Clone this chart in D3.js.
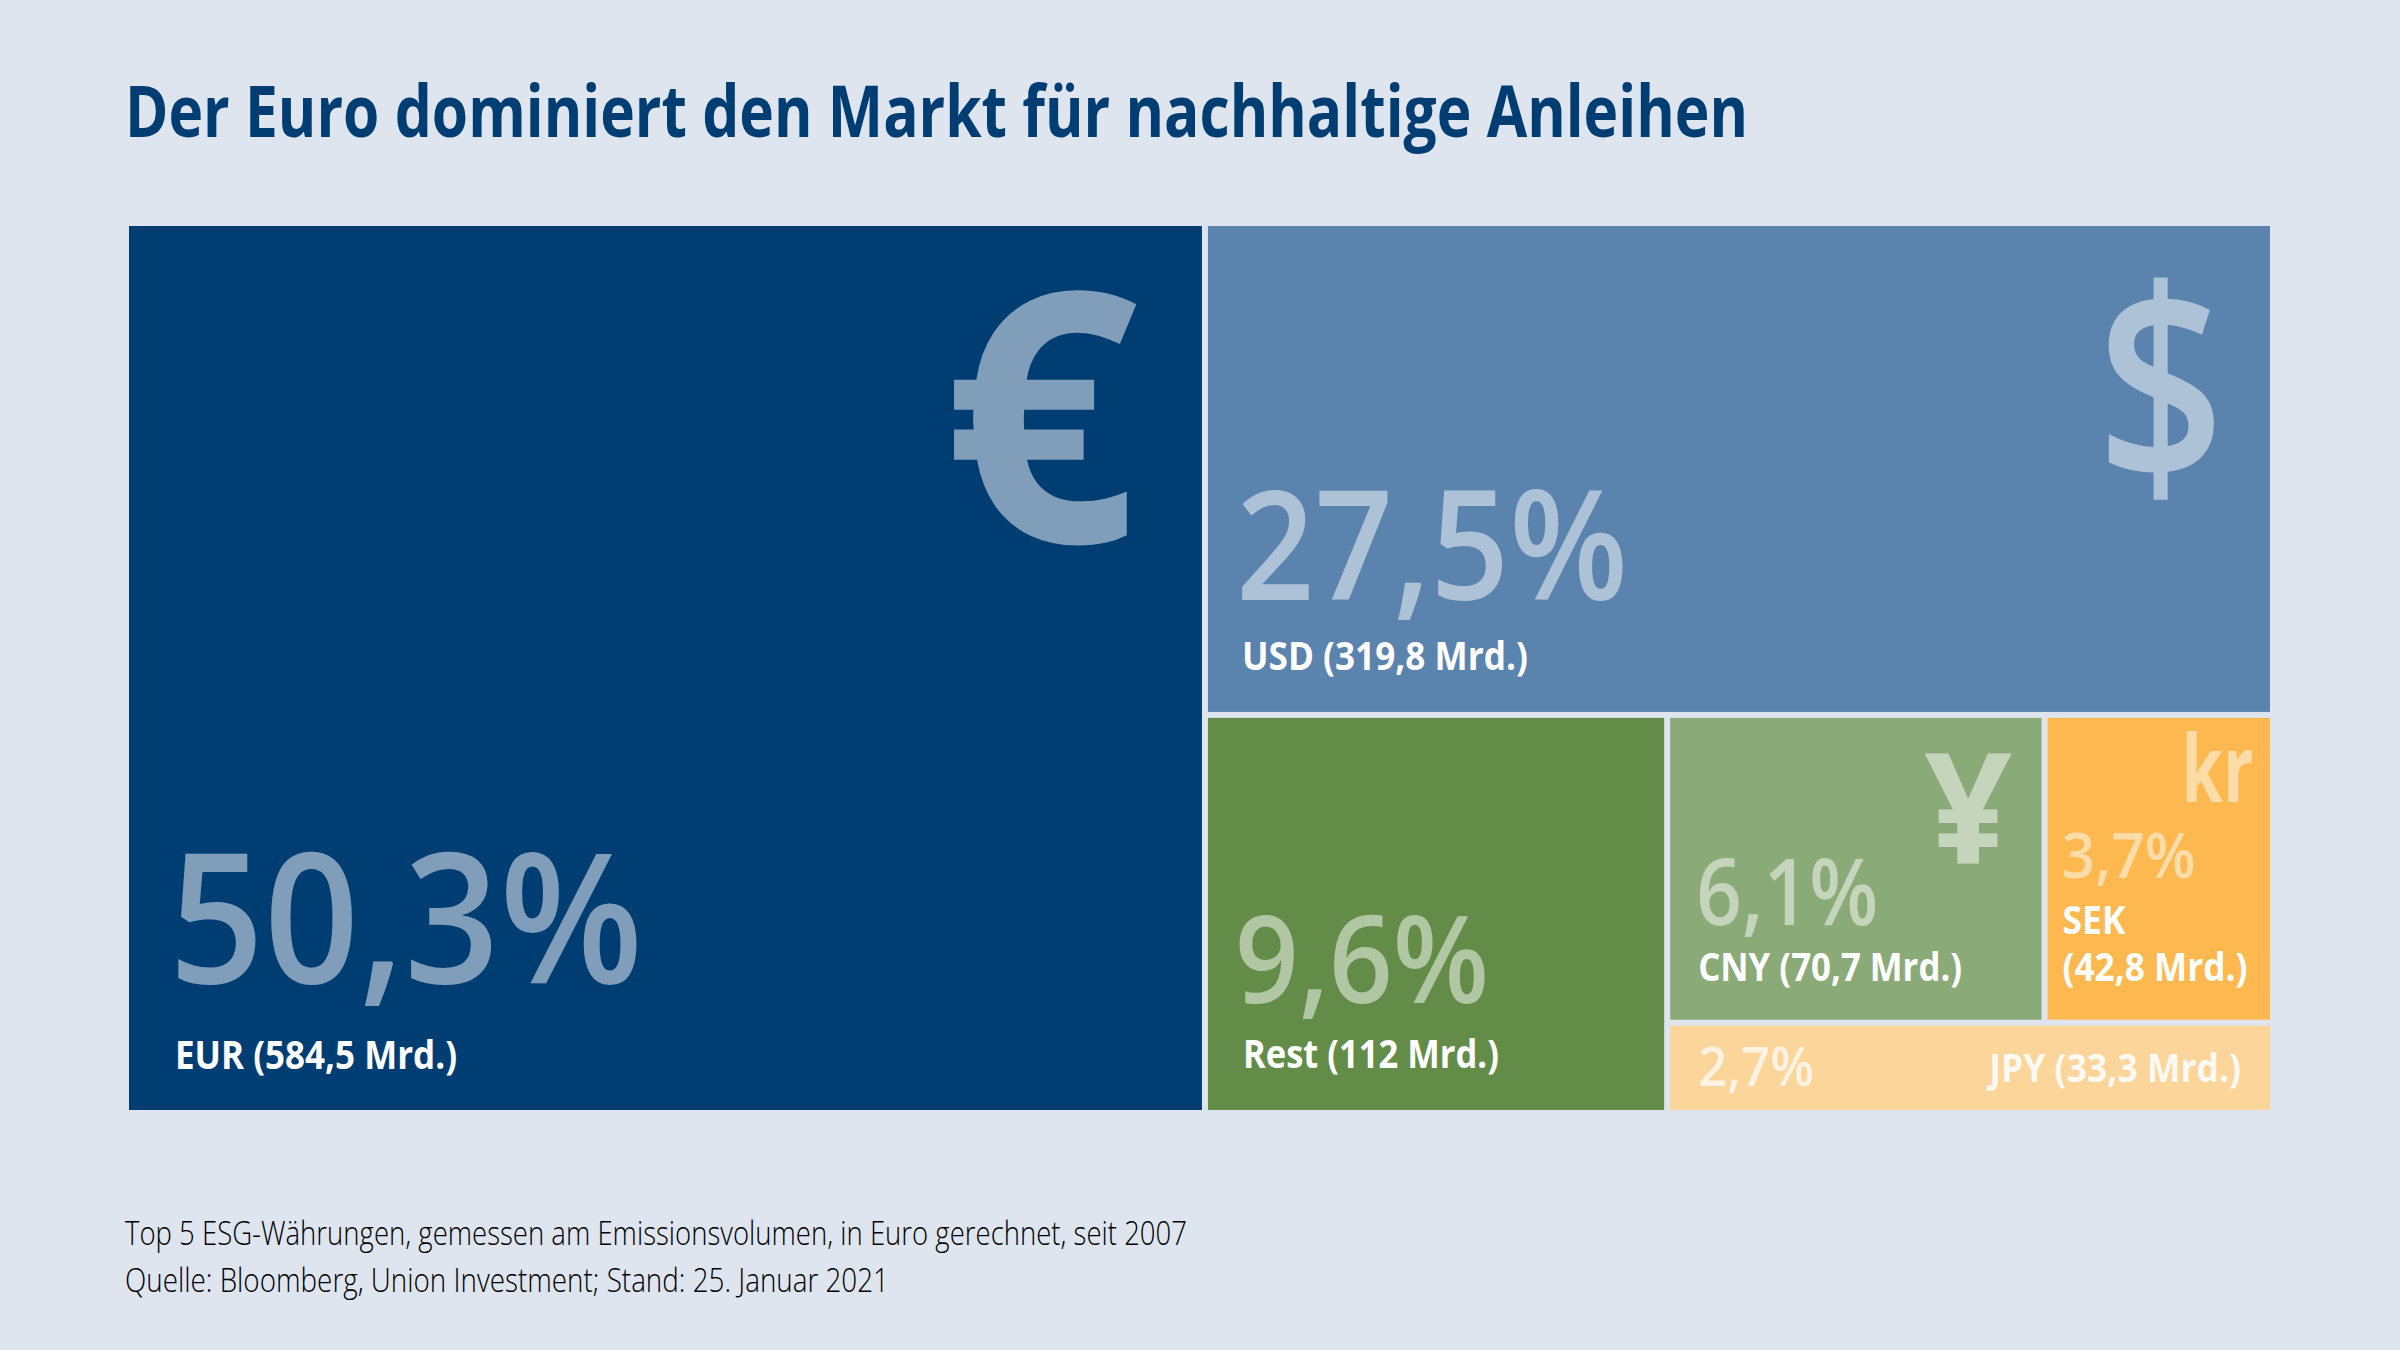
<!DOCTYPE html>
<html lang="de">
<head>
<meta charset="utf-8">
<title>Der Euro dominiert den Markt für nachhaltige Anleihen</title>
<script src="https://cdn.jsdelivr.net/npm/d3@7"></script>
<style>
    html, body { margin: 0; padding: 0; background: #dee5ef; }
    svg { display: block; }
    text { font-family: "Open Sans", sans-serif; }
</style>
</head>
<body>
<svg id="drawing_region"></svg>
<script>
const titleText = "Der Euro dominiert den Markt für nachhaltige Anleihen";
const footerLines = [
    "Top 5 ESG-Währungen, gemessen am Emissionsvolumen, in Euro gerechnet, seit 2007",
    "Quelle: Bloomberg, Union Investment; Stand: 25. Januar 2021"
];

const currencies = ["EUR", "USD", "Rest", "CNY", "SEK", "JPY"];
const volumes = [584.5, 319.8, 112, 70.7, 42.8, 33.3];
const shares = [50.3, 27.5, 9.6, 6.1, 3.7, 2.7];
const symbols = ["€", "$", "", "¥", "kr", ""];

const colors = ["#003d73", "#5a83ae", "#628c47", "#8aaa78", "#fdb94f", "#fcd59a"];

// dx from cell left, dy from cell bottom, font size, width of the text
const pctPlace = {
    EUR: [40, -127, 182, 474], USD: [28, -112, 152, 392], Rest: [27, -107, 122, 254],
    CNY: [26, -95, 92, 182], SEK: [14, -142, 64, 134], JPY: [28, -24, 54, 116]
};
const labelPlace = {
    EUR: [46, -41, 39, 282], USD: [34, -42, 39, 286], Rest: [35, -42, 39, 256],
    CNY: [28, -39, 39, 264], SEK: [15, -39, 39, 185], JPY: [319, -28, 39, 252]
};
const symPlace = {
    EUR: [814, -568, 350, 196, 700], USD: [889, -228, 272, 128, 600],
    CNY: [254, -156, 155, 88, 700], SEK: [134, -218, 94, 72, 700]
};

const config = {
    parent: '#drawing_region',
    width: 2400,
    height: 1350,
    chart: {x: 129, y: 226, width: 2141, height: 884},
    gap: 6
};

const svg = d3.select(config.parent)
    .attr('width', config.width)
    .attr('height', config.height);

svg.append('rect')
    .attr('width', config.width)
    .attr('height', config.height)
    .attr('fill', '#dee5ef');

svg.append('text')
    .attr('x', 125)
    .attr('y', 137)
    .attr('font-size', 71)
    .attr('font-weight', 700)
    .attr('fill', '#003d73')
    .attr('textLength', 1623)
    .attr('lengthAdjust', 'spacingAndGlyphs')
    .text(titleText);

// nesting follows the picture: EUR | (USD / (Rest | ((CNY | SEK) / JPY)))
const leaf = i => ({
    name: currencies[i], value: volumes[i], share: shares[i],
    symbol: symbols[i], color: colors[i]
});
const tree = {children: [
    leaf(0),
    {children: [
        leaf(1),
        {children: [
            leaf(2),
            {children: [
                {children: [leaf(3), leaf(4)]},
                leaf(5)
            ]}
        ]}
    ]}
]};

const root = d3.hierarchy(tree).sum(d => d.value);

d3.treemap()
    .tile(d3.treemapSliceDice)
    .size([config.chart.width, config.chart.height])
    .paddingInner(config.gap)(root);

const chart = svg.append('g')
    .attr('transform', `translate(${config.chart.x}, ${config.chart.y})`);

const cells = chart.selectAll('g')
    .data(root.leaves())
    .enter()
    .append('g');

cells.append('rect')
    .attr('x', d => d.x0)
    .attr('y', d => d.y0)
    .attr('width', d => d.x1 - d.x0)
    .attr('height', d => d.y1 - d.y0)
    .attr('fill', d => d.data.color);

const comma = v => String(v).replace('.', ',');

// big percentage
cells.append('text')
    .attr('x', d => d.x0 + pctPlace[d.data.name][0])
    .attr('y', d => d.y1 + pctPlace[d.data.name][1])
    .attr('font-size', d => pctPlace[d.data.name][2])
    .attr('textLength', d => pctPlace[d.data.name][3])
    .attr('lengthAdjust', 'spacingAndGlyphs')
    .attr('font-weight', 600)
    .attr('fill', '#fff')
    .attr('fill-opacity', d => d.data.name == 'JPY' ? 0.72 : 0.5)
    .text(d => comma(d.data.share) + '%');

// currency sign
cells.filter(d => d.data.symbol != '')
    .append('text')
    .attr('x', d => d.x0 + symPlace[d.data.name][0])
    .attr('y', d => d.y1 + symPlace[d.data.name][1])
    .attr('font-size', d => symPlace[d.data.name][2])
    .attr('textLength', d => symPlace[d.data.name][3])
    .attr('lengthAdjust', 'spacingAndGlyphs')
    .attr('font-weight', d => symPlace[d.data.name][4])
    .attr('fill', '#fff')
    .attr('fill-opacity', 0.5)
    .text(d => d.data.symbol);

// volume label, SEK is the only one on two lines
cells.each(function(d) {
    const p = labelPlace[d.data.name];
    const volume = `(${comma(d.data.value)} Mrd.)`;
    const g = d3.select(this);
    const add = (str, x, y, w) => g.append('text')
        .attr('x', x)
        .attr('y', y)
        .attr('font-size', p[2])
        .attr('textLength', w)
        .attr('lengthAdjust', 'spacingAndGlyphs')
        .attr('font-weight', 700)
        .attr('fill', '#fff')
        .attr('fill-opacity', d.data.name == 'JPY' ? 0.9 : 1)
        .text(str);

    if (d.data.name == 'SEK') {
        add(d.data.name, d.x0 + p[0], d.y1 + p[1] - 47, 63);
        add(volume, d.x0 + p[0], d.y1 + p[1], p[3]);
    } else {
        add(`${d.data.name} ${volume}`, d.x0 + p[0], d.y1 + p[1], p[3]);
    }
});

const footerWidths = [1062, 764];
svg.selectAll('.footer')
    .data(footerLines)
    .enter()
    .append('text')
    .attr('class', 'footer')
    .attr('x', 125)
    .attr('y', (d, i) => 1245 + i * 47)
    .attr('font-size', 33)
    .attr('font-weight', 300)
    .attr('fill', '#000')
    .attr('textLength', (d, i) => footerWidths[i])
    .attr('lengthAdjust', 'spacingAndGlyphs')
    .text(d => d);
</script>
</body>
</html>
